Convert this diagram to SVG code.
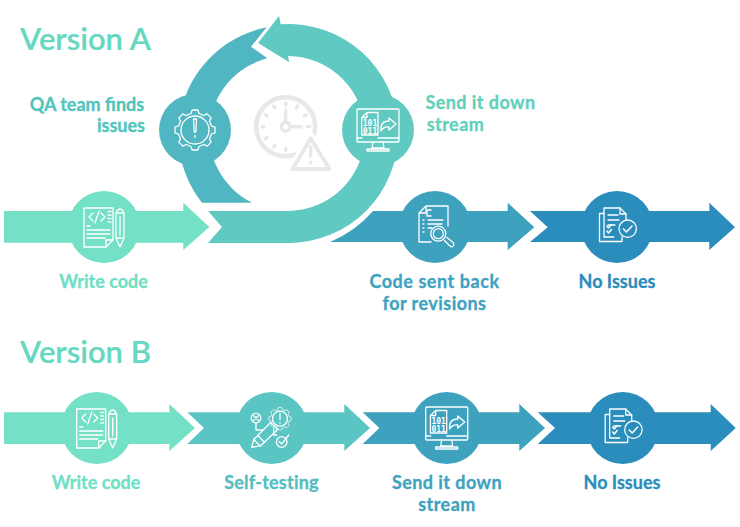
<svg xmlns="http://www.w3.org/2000/svg" width="740" height="527" viewBox="0 0 740 527">
  <style>
    text { font-family: "Lato", "Liberation Sans", sans-serif; font-weight: 700; font-size: 18px; text-anchor: middle; stroke-width: .3; }
    .title { font-size: 31px; font-weight: 600; text-anchor: start; fill: #66d8c0; stroke: #66d8c0; stroke-width: .2; }
    .wide { letter-spacing: .45px; }
    .ico { fill: none; stroke: #fff; stroke-width: 1.3; stroke-linejoin: round; stroke-linecap: round; }
    .bits { font-family: "DejaVu Sans Mono", monospace; font-size: 8px; font-weight: 700; fill: #fff; stroke: none; }
    .mint { fill: #74e0c6; } .teal { fill: #5ac5c3; } .ring { fill: #60c9c1; }
    .lake { fill: #50b6c2; } .sea { fill: #3ea2bf; } .deep { fill: #2b8dbb; }
    .muted { fill: none; stroke: #e8e8e8; stroke-linecap: round; stroke-linejoin: round; }
  </style>
  <defs>
    <polygon id="gear" points="-4,-16.5 -2.8,-20 2.8,-20 4,-16.5 8.84,-14.5 12.16,-16.12 16.12,-12.16 14.5,-8.84 16.5,-4 20,-2.8 20,2.8 16.5,4 14.5,8.84 16.12,12.16 12.16,16.12 8.84,14.5 4,16.5 2.8,20 -2.8,20 -4,16.5 -8.84,14.5 -12.16,16.12 -16.12,12.16 -14.5,8.84 -16.5,4 -20,2.8 -20,-2.8 -16.5,-4 -14.5,-8.84 -16.12,-12.16 -12.16,-16.12 -8.84,-14.5"/>
    <g id="icon-code" class="ico">
      <path d="M-20 -19H9V13L2 20H-20Z"/>
      <path d="M9 13H2V20"/>
      <path d="M-11 -14L-15 -10L-11 -6M-3 -14L1 -10L-3 -6M-5 -16L-9 -4"/>
      <path d="M4 -15.500H7M4 -12H7M4 -8.500H7M4 -5H7" stroke-dasharray="1 1.200"/>
      <path d="M-17 -1H-14M-17 3H6M-17 7H6M-17 11H1"/>
      <path d="M12 -14Q16 -22 20 -14V11L16 20L12 11ZM12 -14H20M16 -10V8M12 11H20"/>
    </g>
    <g id="icon-screen" class="ico">
      <rect x="-21" y="-21" width="42" height="33" rx="1"/>
      <path d="M-21 8H-16M0 8H21M-5 12L-6 18H6L5 12M-11 21H11V19H-11Z"/>
      <path d="M-11 -17.500H0V5H-16.300V-12.500ZM-11 -17.500V-12.500H-16.300"/>
      <text class="bits" x="-8" y="-4">101</text>
      <text class="bits" x="-8" y="3.800">011</text>
      <path d="M3 1Q2 -9 11 -9V-12L18 -6L11 0V-3Q6 -4 3 1Z"/>
    </g>
    <g id="icon-ok" class="ico">
      <path d="M-13 -19H3L9 -13V-7M-13 -19V10H-3"/>
      <path d="M3 -19V-13H9"/>
      <path d="M-13 -13.500H-17.500V14.500H5V10"/>
      <path d="M-9 -12H1M-9 -7H2M-9 -2H-2"/>
      <path d="M-10 -1L-8.500 1L-5.500 -2.500M-10 4L-8.500 6L-5.500 2.500" stroke-width="1.500"/>
      <circle cx="10.700" cy="1.700" r="8.700"/>
      <path d="M6.500 2L9.500 5L15 -1" stroke-width="1.500"/>
    </g>
  </defs>

  <text class="title" x="20" y="50">Version A</text>
  <text class="title" x="20" y="363">Version B</text>

  <g id="connectors">
    <!-- upper flow: straight arrows and the loop -->
    <path class="mint" d="M4 211H183.300V202.700L209.300 227L183.300 250V242.700H4Z"/>
    <path class="sea" d="M330 242A116 116 0 0 0 373 211H507.700V202.700L534.300 227.300L507.700 250V242H330Z"/>
    <path class="deep" d="M530 211H709.300V202.700L735 227.300L709.300 250V242H530L547.700 227.300Z"/>
    <path class="lake" d="M202 202.700A109.500 109.500 0 0 1 266.700 27.300L251 46.700L267.300 58.300A77.500 77.500 0 0 0 252 202.700Z"/>
    <path class="ring" d="M280.700 24.300A109.500 109.500 0 1 1 287 243H208L222 227L208 211H287A77.500 77.500 0 0 0 288 56L289.300 62.300L258 43L279 16Z"/>
    <!-- lower flow -->
    <path class="mint" d="M4 412.300H169.300V404L195 428L169.300 451V444H4Z"/>
    <path class="teal" d="M187.300 412.300H344.300V404L370 428L344.300 451V444H187.300L204 428Z"/>
    <path class="sea" d="M362.700 412.300H519.300V404L545 428L519.300 451V444H362.700L379.300 428Z"/>
    <path class="deep" d="M537.700 412.300H710.700V404L735.700 428L710.700 451V444H537.700L555 428Z"/>
  </g>

  <g id="clock">
    <circle class="muted" cx="285.700" cy="126.700" r="29.500" stroke-width="4.500"/>
    <path class="muted" stroke-width="3.500" d="M285.700 103V105M285.700 148.500V150.500M262 126.700H264M307.500 126.700H309.500M273.800 106.100L274.800 107.900M297.700 106.100L296.700 107.900M265.100 114.800L266.900 115.800M306.300 114.800L304.500 115.800M265.100 138.600L266.900 137.600M273.800 147.300L274.800 145.500"/>
    <circle class="muted" cx="285.700" cy="126.700" r="4.500" stroke-width="3.500"/>
    <path class="muted" stroke-width="3.500" d="M285.700 120V110M291 126.700H301"/>
    <path d="M310.700 137L331 172H290Z" fill="#fff" stroke="#fff" stroke-width="9" stroke-linejoin="round"/>
    <path class="muted" stroke-width="4" d="M310.700 138.500L329.500 169H292.500Z"/>
    <path class="muted" stroke-width="3.500" d="M310.700 147V156M310.700 162.500V163"/>
  </g>

  <g id="node-qa">
    <circle class="lake" cx="195" cy="130" r="36"/>
    <g class="ico"><use href="#gear" transform="translate(195 130)"/><circle cx="195" cy="130" r="14"/><path d="M193.500 119H196.500L195.800 132H194.200ZM195 135.500V137.500" stroke-width="1.300"/></g>
    <text fill="#4fc5bd" stroke="#4fc5bd"><tspan x="87" y="111">QA team finds</tspan><tspan x="121" y="132">issues</tspan></text>
  </g>
  <g id="node-send-a">
    <circle class="ring" cx="378" cy="130" r="36"/>
    <use href="#icon-screen" transform="translate(378 130)"/>
    <text class="wide" fill="#5fd1bb" stroke="#5fd1bb"><tspan x="480.500" y="109">Send it down</tspan><tspan x="455.500" y="131">stream</tspan></text>
  </g>
  <g id="node-write-a">
    <circle class="mint" cx="104" cy="227" r="36"/>
    <use href="#icon-code" transform="translate(104 227)"/>
    <text x="103.500" y="288" fill="#6fdfc5" stroke="#6fdfc5">Write code</text>
  </g>
  <g id="node-review">
    <circle class="sea" cx="435" cy="227" r="36"/>
    <g class="ico" transform="translate(435 227)">
      <path d="M-9 -21H13V-1M-16 -14L-9 -21V-14H-16V15H-4M9.500 13.500L14.500 18.500Q17 21 18.500 18.500Q19.500 16.500 17.500 15L12 10.500"/>
      <path d="M-4 -17H-8V-11H-4M-7 -7H8M-7 -3H7M-12 -7H-11M-12 -3H-11M-12 1H-11M-12 5H-11M-7 1H-3"/>
      <circle cx="3.300" cy="6.700" r="7.500"/>
      <circle cx="3.300" cy="6.700" r="5"/>
    </g>
    <text fill="#3ea2bf" stroke="#3ea2bf"><tspan x="434.500" y="288" style="letter-spacing:.55px">Code sent back</tspan><tspan x="434.500" y="310" class="wide">for revisions</tspan></text>
  </g>
  <g id="node-ok-a">
    <circle class="deep" cx="617" cy="227" r="36"/>
    <use href="#icon-ok" transform="translate(617 227)"/>
    <text x="617" y="288" fill="#2b8dbb" stroke="#2b8dbb">No Issues</text>
  </g>
  <g id="node-write-b">
    <circle class="mint" cx="96.700" cy="428" r="36"/>
    <use href="#icon-code" transform="translate(96.700 428)"/>
    <text x="96" y="489" fill="#6fdfc5" stroke="#6fdfc5">Write code</text>
  </g>
  <g id="node-self">
    <circle class="teal" cx="271.700" cy="428" r="36"/>
    <g class="ico" transform="translate(271.700 428)">
      <circle cx="-15.700" cy="-10" r="4.800"/>
      <path d="M-18 -12.300L-13.400 -7.700M-13.400 -12.300L-18 -7.700M-15.700 -5.200V2H-9M2 1V7H5"/>
      <use href="#gear" transform="translate(8.300 -9.300) scale(.56)"/>
      <circle cx="8.300" cy="-9.300" r="7.500"/>
      <path d="M8.300 -14.500V-8.500M8.300 -5.500V-5"/>
      <path d="M-20 19.300L-18 11.500L-1 -5.500L6 1.500L-11 17.800ZM-18 11.500L-12 17.500M-14 7.500L-8 13.500"/>
      <circle cx="10" cy="14" r="5.300"/>
      <path d="M7.500 13.500L10 16L17 7"/>
    </g>
    <text x="271.500" y="489" fill="#52bdc2" stroke="#52bdc2" style="letter-spacing:.2px">Self-testing</text>
  </g>
  <g id="node-send-b">
    <circle class="sea" cx="446.700" cy="428" r="36"/>
    <use href="#icon-screen" transform="translate(446.700 428)"/>
    <text class="wide" fill="#3ea2bf" stroke="#3ea2bf"><tspan x="447" y="489">Send it down</tspan><tspan x="447" y="511">stream</tspan></text>
  </g>
  <g id="node-ok-b">
    <circle class="deep" cx="622.700" cy="428" r="36"/>
    <use href="#icon-ok" transform="translate(622.700 428)"/>
    <text x="622" y="489" fill="#2b8dbb" stroke="#2b8dbb">No Issues</text>
  </g>
</svg>
